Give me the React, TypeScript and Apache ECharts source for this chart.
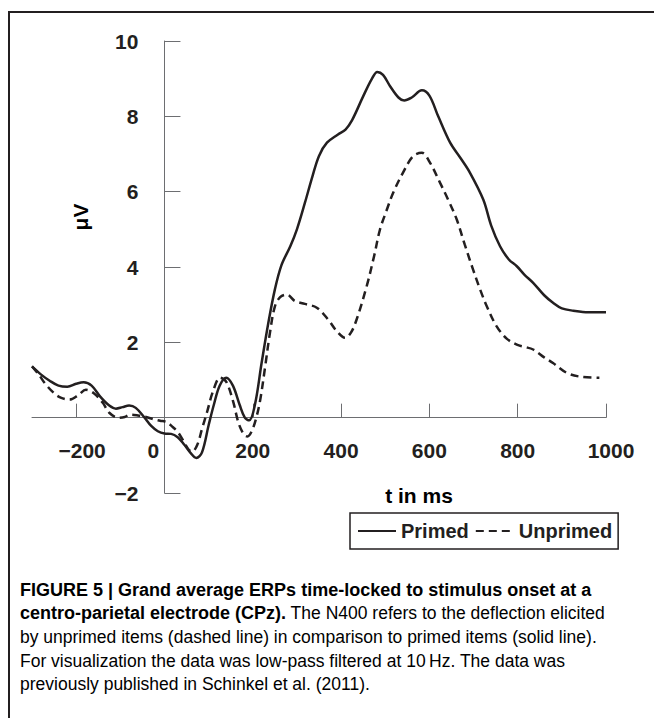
import React, { useEffect, useRef } from "react";
import * as echarts from "echarts";

const TIME_PRIMED = [
  -300, -280, -260, -240, -220, -200, -183, -165, -145, -125, -110, -95, -80, -65, -45, -30, -15, 0, 15, 30,
  45, 60, 72, 85, 100, 112, 125, 140, 155, 170, 182, 192, 205, 220, 235, 250, 265, 285, 300, 318,
  335, 350, 368, 393, 410, 425, 450, 470, 482, 495, 511, 530, 543, 560, 583, 600, 620, 647, 670, 692,
  722, 740, 760, 780, 798, 815, 835, 860, 880, 900, 926, 960, 1000,
];
const PRIMED = [
  1.36, 1.15, 0.98, 0.85, 0.82, 0.9, 0.94, 0.85, 0.55, 0.32, 0.24, 0.28, 0.32, 0.26, 0.0, -0.22, -0.36, -0.42, -0.43, -0.52,
  -0.72, -0.95, -1.07, -0.92, -0.2, 0.35, 0.85, 1.06, 0.85, 0.35, 0.0, -0.07, 0.35, 1.45, 2.5, 3.4, 4.05, 4.55, 5.0, 5.7,
  6.4, 6.95, 7.3, 7.52, 7.65, 7.9, 8.53, 9.0, 9.18, 9.1, 8.8, 8.5, 8.42, 8.5, 8.69, 8.55, 8.0, 7.3, 6.9, 6.5,
  5.79, 5.1, 4.55, 4.2, 4.02, 3.8, 3.58, 3.25, 3.05, 2.9, 2.84, 2.8, 2.8,
];

const TIME_UNPRIMED = [
  -300, -285, -270, -250, -235, -215, -195, -178, -160, -140, -125, -105, -90, -78, -60, -45, -25, -10, 5, 17,
  30, 42, 55, 63, 75, 85, 96, 110, 126, 140, 155, 168, 180, 188, 198, 208, 217, 228, 239, 250,
  262, 277, 295, 318, 345, 371, 390, 409, 422, 435, 458, 475, 488, 503, 518, 540, 563, 583, 600, 624,
  642, 662, 680, 699, 715, 730, 752, 775, 798, 815, 835, 860, 880, 911, 941, 985,
];
const UNPRIMED = [
  1.36, 1.15, 0.9, 0.65, 0.53, 0.48, 0.6, 0.74, 0.65, 0.4, 0.13, 0.0, 0.02, 0.08, 0.06, 0.03, -0.04, -0.08, -0.12, -0.23,
  -0.38, -0.6, -0.85, -0.9, -0.7, -0.3, 0.13, 0.7, 1.06, 0.95, 0.45, -0.15, -0.45, -0.5, -0.35, 0.0, 0.48, 1.35, 2.26, 2.95,
  3.2, 3.27, 3.1, 3.02, 2.92, 2.6, 2.3, 2.12, 2.25, 2.6, 3.49, 4.3, 4.99, 5.5, 5.97, 6.5, 6.94, 7.03, 6.8, 6.24,
  5.8, 5.26, 4.6, 3.93, 3.4, 2.96, 2.43, 2.1, 1.94, 1.88, 1.81, 1.6, 1.45, 1.19, 1.09, 1.06,
];

const X_MIN = -300;
const X_MAX = 1000;
const Y_MIN = -2;
const Y_MAX = 10;
const X_TICKS = [-200, 0, 200, 400, 600, 800, 1000];
const SERIES_NAMES = ["Primed", "Unprimed"];
const X_NAME = "t in ms";
const Y_NAME = "μV";

const CAPTION_LINES = [
  "{b|FIGURE 5 | Grand average ERPs time-locked to stimulus onset at a}",
  "{b|centro-parietal electrode (CPz).}{n| The N400 refers to the deflection elicited}",
  "{n|by unprimed items (dashed line) in comparison to primed items (solid line).}",
  "{n|For visualization the data was low-pass filtered at 10\u2009Hz. The data was}",
  "{n|previously published in }{g|Schinkel et al.}{n| (}{g|2011}{n|).}",
];

const INK = "#231f20";
const AXIS = "#6d6e71";
const FONT = "'Liberation Sans', Arial, Helvetica, sans-serif";

// grid geometry
const G_LEFT = 32;
const G_RIGHT = 48;
const G_TOP = 41;
const G_BOTTOM = 225;
const W = 654;
const H = 718;

export default function App() {
  const ref = useRef<HTMLDivElement>(null);

  useEffect(() => {
    if (!ref.current) return;
    const chart = echarts.init(ref.current, undefined, { renderer: "svg" });

    const gridW = W - G_LEFT - G_RIGHT;
    const gridH = H - G_TOP - G_BOTTOM;
    // shift axes so that they cross at (0, 0)
    const yAxisOffset = -((0 - X_MIN) / (X_MAX - X_MIN)) * gridW;
    const xAxisOffset = -((0 - Y_MIN) / (Y_MAX - Y_MIN)) * gridH;

    const labelBase = { fontFamily: FONT, fontWeight: "bold" as const, fontSize: 21, color: INK };
    const legendText = { fontFamily: FONT, fontWeight: "bold" as const, fontSize: 20, color: INK };
    const capBase = { fontFamily: FONT, fontSize: 17.5, color: INK };

    const option: any = {
      animation: false,
      backgroundColor: "#ffffff",
      grid: {
        left: G_LEFT,
        right: G_RIGHT,
        top: G_TOP,
        bottom: G_BOTTOM,
        containLabel: false,
        outerBoundsMode: "none",
      },
      xAxis: {
        type: "value",
        min: X_MIN,
        max: X_MAX,
        position: "bottom",
        offset: xAxisOffset,
        axisLine: { onZero: false, lineStyle: { color: AXIS, width: 1 } },
        axisTick: { inside: true, length: 14, lineStyle: { color: AXIS, width: 1 }, customValues: X_TICKS },
        axisLabel: {
          ...labelBase,
          margin: 22,
          customValues: X_TICKS,
          formatter: (v: number) => {
            if (v === 0) return "{z|0}";
            if (v === -200) return "{m|\u2212200}";
            if (v === 1000) return "{k|1000}";
            return String(v);
          },
          rich: {
            z: { ...labelBase, padding: [0, 22, 0, 0] },
            m: { ...labelBase, padding: [0, 0, 0, 12] },
            k: { ...labelBase, padding: [0, 0, 0, 10] },
          },
        },
        splitLine: { show: false },
      },
      yAxis: {
        type: "value",
        min: Y_MIN,
        max: Y_MAX,
        interval: 2,
        position: "left",
        offset: yAxisOffset,
        axisLine: { show: true, onZero: false, lineStyle: { color: AXIS, width: 1 } },
        axisTick: { show: true, inside: true, length: 16, lineStyle: { color: AXIS, width: 1 } },
        axisLabel: {
          ...labelBase,
          margin: 26,
          formatter: (v: number) => (v === 0 ? "" : v < 0 ? "\u2212" + Math.abs(v) : String(v)),
        },
        splitLine: { show: false },
      },
      legend: {
        left: 350,
        top: 513,
        orient: "horizontal",
        itemWidth: 38,
        itemHeight: 14,
        itemGap: 6,
        padding: [8, 6, 8, 7],
        borderColor: INK,
        borderWidth: 1.5,
        borderRadius: 0,
        itemStyle: { opacity: 0, color: "transparent", borderWidth: 0 },
        textStyle: { ...legendText },
        data: SERIES_NAMES,
      },
      series: [
        {
          name: SERIES_NAMES[0],
          type: "line",
          data: TIME_PRIMED.map((t, i) => [t, PRIMED[i]]),
          smooth: 0.35,
          symbol: "none",
          lineStyle: { color: INK, width: 2.5, type: "solid" },
          itemStyle: { color: INK },
        },
        {
          name: SERIES_NAMES[1],
          type: "line",
          data: TIME_UNPRIMED.map((t, i) => [t, UNPRIMED[i]]),
          smooth: 0.35,
          symbol: "none",
          lineStyle: { color: INK, width: 2.5, type: [8, 5] },
          itemStyle: { color: INK },
        },
      ],
      graphic: [
        {
          type: "polyline",
          shape: { points: [[654, 12], [9, 12], [9, 718]] },
          style: { stroke: INK, lineWidth: 2, fill: null },
          silent: true,
        },
        {
          type: "text",
          x: 80,
          y: 217,
          rotation: Math.PI / 2,
          style: { text: Y_NAME, ...labelBase, align: "center", verticalAlign: "middle" },
        },
        {
          type: "text",
          x: 419,
          y: 495,
          style: { text: X_NAME, ...labelBase, align: "center", verticalAlign: "middle" },
        },
        ...CAPTION_LINES.map((line, i) => ({
          type: "text",
          x: 20,
          y: [590, 613, 637, 661, 684][i],
          style: {
            text: line,
            ...capBase,
            verticalAlign: "middle",
            align: "left",
            rich: {
              b: { ...capBase, fontSize: 18, fontWeight: "bold" },
              n: { ...capBase },
              g: { ...capBase, color: "#8a8a8a" },
            },
          },
        })),
      ],
    };

    chart.setOption(option);
    return () => chart.dispose();
  }, []);

  return (
    <div
      ref={ref}
      style={{ position: "fixed", left: 0, top: 0, width: W, height: H, background: "#fff" }}
    />
  );
}
